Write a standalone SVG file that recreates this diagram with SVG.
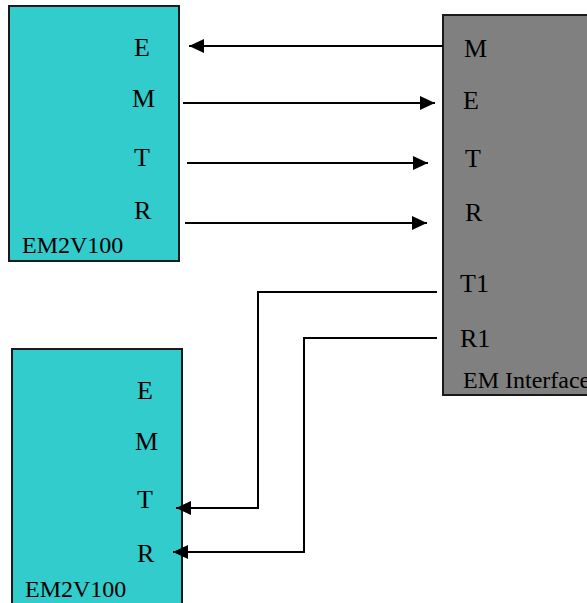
<svg xmlns="http://www.w3.org/2000/svg" width="587" height="603" viewBox="0 0 587 603">
  <style>
    .em { fill: #33CCCC; stroke: #1a1a1a; stroke-width: 2; }
    .iface { fill: #808080; stroke: #1a1a1a; stroke-width: 2; }
    .port { font-family: 'Liberation Serif', 'Times New Roman', serif; font-size: 26px; fill: #000; }
    .name { font-family: 'Liberation Serif', 'Times New Roman', serif; font-size: 24px; fill: #000; }
    .wire { fill: none; stroke: #000; stroke-width: 2; }
  </style>
  <defs>
    <marker id="arrow" viewBox="0 0 15 14" refX="15" refY="7" markerWidth="15" markerHeight="14" markerUnits="userSpaceOnUse" orient="auto">
      <path d="M0,0 L15,7 L0,14 z" fill="#000"/>
    </marker>
  </defs>

  <g id="em2v100-top">
    <rect class="em" x="9" y="6" width="170" height="255"/>
    <text class="port" x="134" y="56">E</text>
    <text class="port" x="132" y="107">M</text>
    <text class="port" x="134" y="166">T</text>
    <text class="port" x="134" y="219">R</text>
    <text class="name" x="22" y="253">EM2V100</text>
  </g>

  <g id="em-interface">
    <rect class="iface" x="443" y="15" width="160" height="380"/>
    <text class="port" x="464" y="57">M</text>
    <text class="port" x="463" y="109">E</text>
    <text class="port" x="465" y="167">T</text>
    <text class="port" x="465" y="221">R</text>
    <text class="port" x="460" y="292">T1</text>
    <text class="port" x="460" y="347">R1</text>
    <text class="name" x="463" y="388">EM Interface</text>
  </g>

  <g id="em2v100-bottom">
    <rect class="em" x="12" y="349" width="170" height="262"/>
    <text class="port" x="137" y="399">E</text>
    <text class="port" x="135" y="450">M</text>
    <text class="port" x="137" y="508">T</text>
    <text class="port" x="137" y="562">R</text>
    <text class="name" x="25" y="597">EM2V100</text>
  </g>

  <g id="connectors">
    <line class="wire" x1="443" y1="46" x2="189" y2="46" marker-end="url(#arrow)"/>
    <line class="wire" x1="183" y1="103" x2="435" y2="103" marker-end="url(#arrow)"/>
    <line class="wire" x1="187" y1="163" x2="428" y2="163" marker-end="url(#arrow)"/>
    <line class="wire" x1="185" y1="223" x2="427" y2="223" marker-end="url(#arrow)"/>
    <polyline class="wire" points="437,292 258,292 258,508 176,508" marker-end="url(#arrow)"/>
    <polyline class="wire" points="437,338 304,338 304,552 173,552" marker-end="url(#arrow)"/>
  </g>
</svg>
